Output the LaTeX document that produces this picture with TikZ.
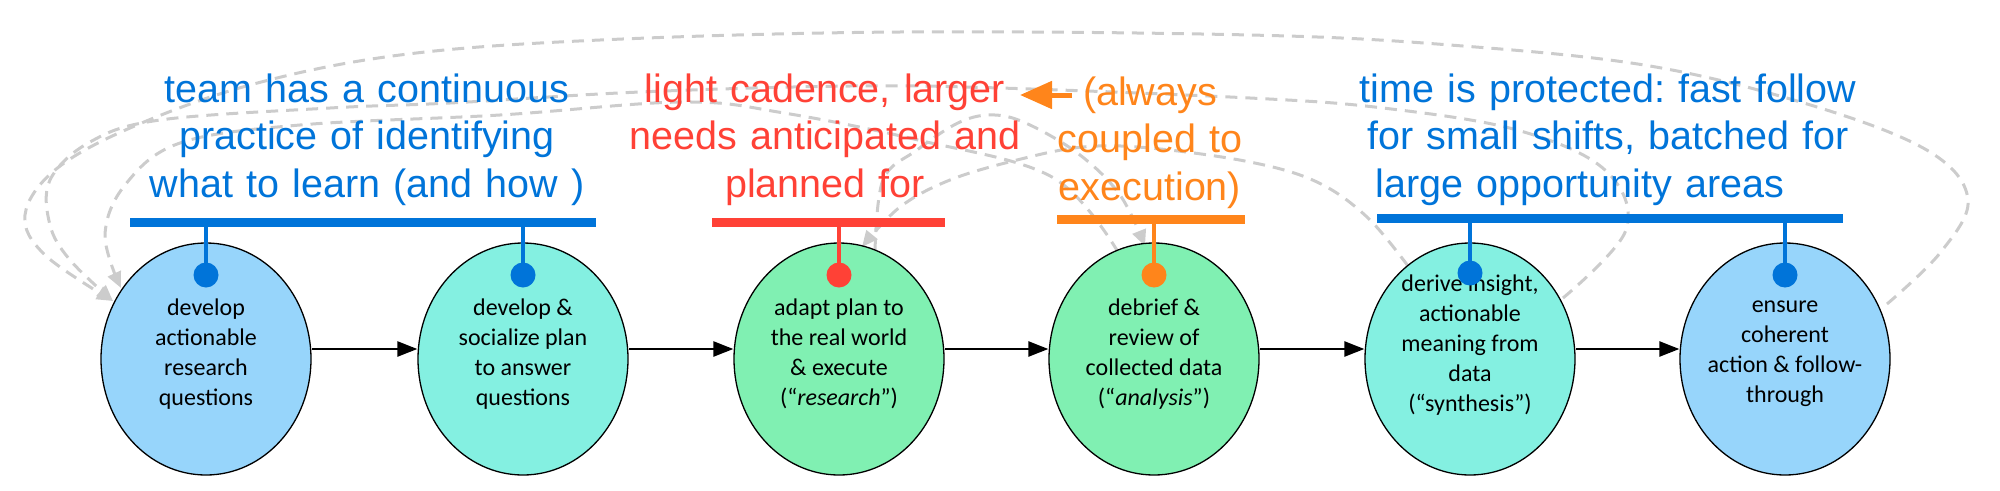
\documentclass[tikz,border=0pt]{standalone}
\usepackage{fontspec}
\setmainfont{Liberation Sans}
\newfontfamily\nodefont{Carlito}
\usetikzlibrary{arrows.meta,shapes.geometric}
\definecolor{cblue}{HTML}{0074D9}
\definecolor{cred}{HTML}{FF4136}
\definecolor{corange}{HTML}{FF851B}
\definecolor{fblue}{HTML}{97D5FB}
\definecolor{faqua}{HTML}{84F0E1}
\definecolor{fgreen}{HTML}{80F0B2}
\definecolor{dgray}{HTML}{CCCCCC}
\frenchspacing
\begin{document}
\begin{tikzpicture}[x=1pt,y=-1pt,
 stage/.style={ellipse, draw=black, line width=1.3pt, minimum width=210pt, minimum height=232pt, inner sep=0pt},
 stagetext/.style={inner sep=0pt, align=center, font=\nodefont\fontsize{24}{30}\selectfont},
 flow/.style={-{Triangle[length=20pt,width=15pt]}, line width=2.5pt},
 fb/.style={dgray, line width=3pt, dash pattern=on 12pt off 8pt, -{Triangle[length=16pt,width=14pt]}},
 note/.style={inner sep=0pt, text width=620pt, align=center, anchor=base, font=\fontsize{39.5}{47.5}\selectfont},
 bar/.style={line width=9pt},
 stem/.style={line width=4.5pt},
 dot/.style={circle, inner sep=0pt, minimum size=25pt},
]
\useasboundingbox (0,0) rectangle (2000,490);

% feedback curves
\draw[fb] plot[smooth, tension=0.6] coordinates {(1887,304) (1940,253) (1968,200) (1930,152) (1817,107) (1650,66) (1450,45) (1250,35) (900,32) (600,40) (400,55) (250,85) (130,128) (55,170) (25,215) (45,255) (113,301)};
\draw[fb] plot[smooth, tension=0.6] coordinates {(1563,298) (1626,230) (1605,170) (1517,130) (1383,108) (1250,98) (1000,88) (850,86) (640,92) (450,103) (330,108) (160,120) (90,142) (50,180) (50,225) (70,260) (113,301)};
\draw[fb] plot[smooth, tension=0.6] coordinates {(1118,252) (1052,177) (918,140) (784,113) (683,102) (500,115) (300,125) (180,143) (125,185) (105,235) (121,288)};
\draw[fb] plot[smooth, tension=0.6] coordinates {(1408,266) (1367,217) (1317,182) (1250,162) (1150,148) (1083,147) (1017,160) (950,180) (900,207) (862,247)};
\draw[fb] plot[smooth, tension=0.6] coordinates {(875,252) (883,180) (917,150) (960,122) (995,115) (1030,125) (1080,155) (1120,195) (1145,246)};

% stages
\node[stage, fill=fblue]  (n1) at (206,359)  {};
\node[stage, fill=faqua]  (n2) at (523,359)  {};
\node[stage, fill=fgreen] (n3) at (839,359)  {};
\node[stage, fill=fgreen] (n4) at (1154,359) {};
\node[stage, fill=faqua]  (n5) at (1470,359) {};
\node[stage, fill=fblue]  (n6) at (1785,359) {};
\node[stagetext] (n1t) at (206,354)  {develop\\actionable\\research\\questions};
\node[stagetext] (n2t) at (523,354)  {develop \&\\socialize plan\\to answer\\questions};
\node[stagetext] (n3t) at (839,354)  {adapt plan to\\the real world\\\& execute\\(“\textit{research}”)};
\node[stagetext] (n4t) at (1154,354) {debrief \&\\review of\\collected data\\(“\textit{analysis}”)};
\node[stagetext] (n5t) at (1470,345) {derive insight,\\actionable\\meaning from\\data\\(“synthesis”)};
\node[stagetext] (n6t) at (1785,354) {ensure\\coherent\\action \& follow-\\through};

\draw[flow] ([yshift=10pt]n1.east) -- ([yshift=10pt]n2.west);
\draw[flow] ([yshift=10pt]n2.east) -- ([yshift=10pt]n3.west);
\draw[flow] ([yshift=10pt]n3.east) -- ([yshift=10pt]n4.west);
\draw[flow] ([yshift=10pt]n4.east) -- ([yshift=10pt]n5.west);
\draw[flow] ([yshift=10pt]n5.east) -- ([yshift=10pt]n6.west);

% annotation bars
\draw[bar, cblue]   (130,222) -- (596,222);
\draw[bar, cred]    (712,222) -- (945,222);
\draw[bar, corange] (1057,219) -- (1245,219);
\draw[bar, cblue]   (1377,218) -- (1843,218);

\node[dot, fill=cblue]   (d1) at (206,275) {};
\node[dot, fill=cblue]   (d2) at (523,275) {};
\node[dot, fill=cred]    (d3) at (839,275) {};
\node[dot, fill=corange] (d4) at (1154,275) {};
\node[dot, fill=cblue]   (d5) at (1470,273) {};
\node[dot, fill=cblue]   (d6) at (1785,275) {};
\coordinate (s1) at (206,222);
\coordinate (s2) at (523,222);
\coordinate (s3) at (839,222);
\coordinate (s4) at (1154,219);
\coordinate (s5) at (1470,218);
\coordinate (s6) at (1785,218);
\draw[stem, cblue]   (s1) -- (d1.center);
\draw[stem, cblue]   (s2) -- (d2.center);
\draw[stem, cred]    (s3) -- (d3.center);
\draw[stem, corange] (s4) -- (d4.center);
\draw[stem, cblue]   (s5) -- (d5.center);
\draw[stem, cblue]   (s6) -- (d6.center);

% notes
\node[note, text=cblue]   (t1) at (367,102)  {team has a continuous\\practice of identifying\\what to learn (and how )};
\node[note, text=cred]    (t2) at (825,102)  {light cadence, larger\\needs anticipated and\\planned for};
\node[note, text=corange] (t3) at (1150,105) {(always\\coupled to\\execution)};
\node[note, text=cblue]   (t4) at (1608,102) {time is protected: fast follow\\for small shifts, batched for\\large opportunity areas\hspace*{56pt}};

\coordinate (oa1) at (1072,95);
\coordinate (oa2) at (1020,95);
\draw[corange, line width=5pt, -{Triangle[length=32pt,width=27pt]}] (oa1) -- (oa2);
\end{tikzpicture}
\end{document}
